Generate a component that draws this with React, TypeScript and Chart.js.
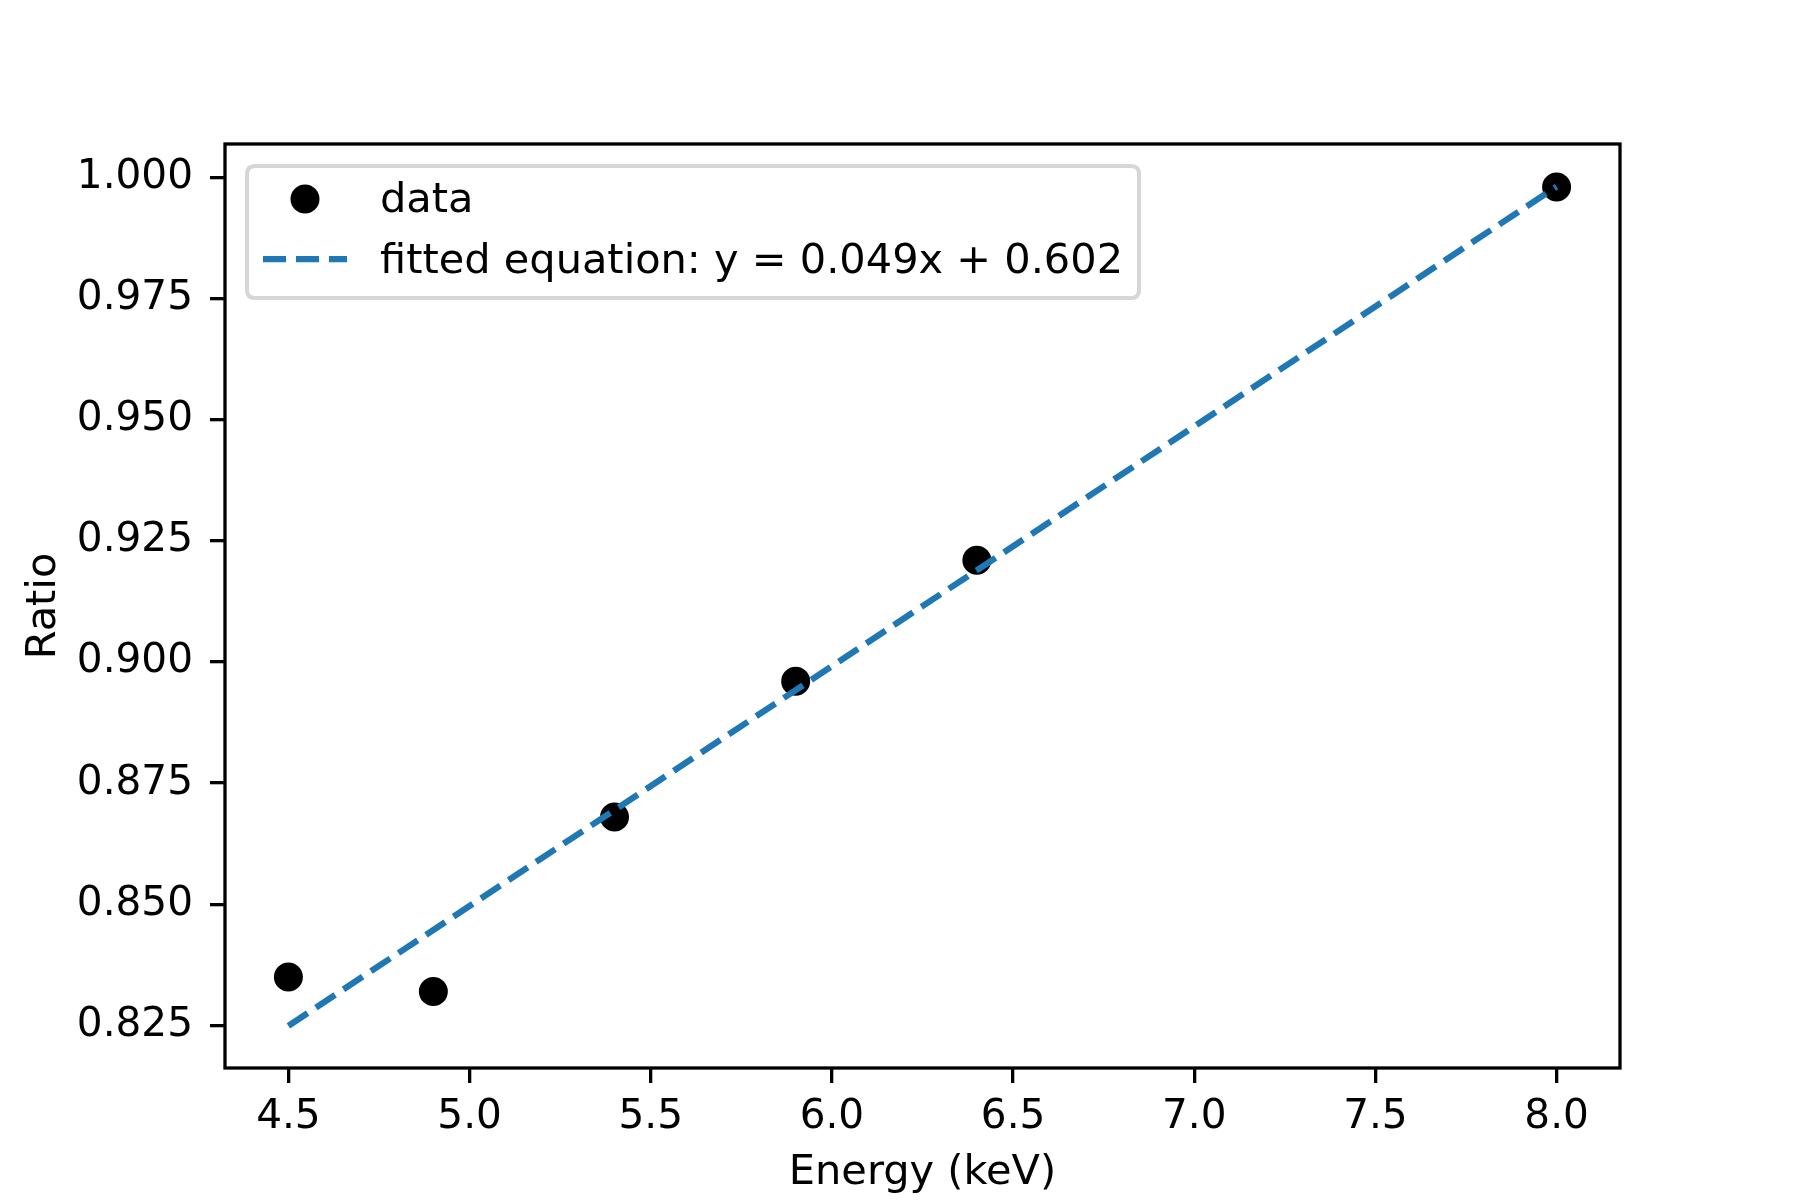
import React, { useEffect, useRef } from "react";
import { Chart, registerables } from "chart.js";

Chart.register(...registerables);

const energyKeV = [4.5, 4.9, 5.4, 5.9, 6.4, 8.0];
const ratioValues = [0.835, 0.832, 0.868, 0.896, 0.921, 0.998];
const fitX = [4.5, 8.0];
const fitY = [0.8249, 0.9981];
const xTicks = [4.5, 5.0, 5.5, 6.0, 6.5, 7.0, 7.5, 8.0];
const yTicks = [0.825, 0.85, 0.875, 0.9, 0.925, 0.95, 0.975, 1.0];
const dataLabel = "data";
const fitLabel = "fitted equation: y = 0.049x + 0.602";
const xTitle = "Energy (keV)";
const yTitle = "Ratio";

const FONT = "'DejaVu Sans', sans-serif";
const FS_TICK = 40.6;
const FS_TEXT = 41.5;
const BLUE = "#1f77b4";

const framePlugin = {
  id: "frameAndLegend",
  afterDraw(chart: any) {
    const { ctx, chartArea } = chart;
    const { left, top, right, bottom } = chartArea;
    ctx.save();
    ctx.strokeStyle = "#000";
    ctx.lineWidth = 3.3;
    ctx.lineJoin = "miter";
    ctx.strokeRect(left, top, right - left, bottom - top);

    // legend box
    const bx = 247, by = 166, bw = 892, bh = 132, r = 8;
    ctx.beginPath();
    ctx.moveTo(bx + r, by);
    ctx.lineTo(bx + bw - r, by);
    ctx.quadraticCurveTo(bx + bw, by, bx + bw, by + r);
    ctx.lineTo(bx + bw, by + bh - r);
    ctx.quadraticCurveTo(bx + bw, by + bh, bx + bw - r, by + bh);
    ctx.lineTo(bx + r, by + bh);
    ctx.quadraticCurveTo(bx, by + bh, bx, by + bh - r);
    ctx.lineTo(bx, by + r);
    ctx.quadraticCurveTo(bx, by, bx + r, by);
    ctx.closePath();
    ctx.fillStyle = "rgba(255,255,255,0.8)";
    ctx.fill();
    ctx.strokeStyle = "#d6d6d6";
    ctx.lineWidth = 4;
    ctx.stroke();

    const ds = chart.data.datasets;
    const dataDs = ds.find((d: any) => d.label === dataLabel);
    const fitDs = ds.find((d: any) => d.label === fitLabel);

    ctx.beginPath();
    ctx.arc(305, 199, 14.5, 0, Math.PI * 2);
    ctx.fillStyle = "#000";
    ctx.fill();
    ctx.beginPath();
    ctx.setLineDash([23, 10]);
    ctx.lineCap = "butt";
    ctx.strokeStyle = BLUE;
    ctx.lineWidth = 6.25;
    ctx.moveTo(263, 259);
    ctx.lineTo(347, 259);
    ctx.stroke();
    ctx.setLineDash([]);

    ctx.fillStyle = "#000";
    ctx.font = `${FS_TEXT}px ${FONT}`;
    ctx.textAlign = "left";
    ctx.textBaseline = "middle";
    ctx.fillText(dataDs.label, 380, 201);
    ctx.fillText(fitDs.label, 380, 262);
    ctx.restore();
  },
};

export default function App() {
  const ref = useRef<HTMLCanvasElement>(null);
  useEffect(() => {
    document.body.style.margin = "0";
    const canvas = ref.current!;
    const chart = new Chart(canvas, {
      type: "scatter",
      data: {
        datasets: [
          {
            type: "line",
            label: fitLabel,
            data: fitX.map((x, i) => ({ x, y: fitY[i] })),
            borderColor: BLUE,
            backgroundColor: BLUE,
            borderWidth: 6.25,
            borderDash: [23, 10],
            borderCapStyle: "butt",
            pointRadius: 0,
            fill: false,
            tension: 0,
            order: 0,
          } as any,
          {
            type: "scatter",
            label: dataLabel,
            data: energyKeV.map((x, i) => ({ x, y: ratioValues[i] })),
            backgroundColor: "#000",
            borderColor: "#000",
            pointRadius: 12.5,
            borderWidth: 4,
            order: 1,
          } as any,
        ],
      },
      options: {
        animation: false,
        responsive: false,
        maintainAspectRatio: false,
        layout: { padding: { top: 144, right: 180, left: 0, bottom: 0 } },
        plugins: { legend: { display: false }, tooltip: { enabled: false }, title: { display: false } },
        scales: {
          x: {
            type: "linear",
            min: 4.325,
            max: 8.175,
            afterBuildTicks: (axis: any) => {
              axis.ticks = xTicks.map((v) => ({ value: v }));
            },
            afterFit: (axis: any) => {
              axis.height = 132;
            },
            border: { display: false },
            grid: {
              drawOnChartArea: false,
              drawTicks: true,
              tickLength: 15,
              tickWidth: 3.3,
              tickColor: "#000",
              color: "#000",
              lineWidth: 3.3,
            },
            ticks: {
              color: "#000",
              font: { family: FONT, size: FS_TICK },
              padding: 10,
              maxRotation: 0,
              autoSkip: false,
              callback: (v: any) => Number(v).toFixed(1),
            },
            title: {
              display: true,
              text: xTitle,
              color: "#000",
              font: { family: FONT, size: FS_TEXT },
              padding: { top: 0, bottom: 2 },
            },
          },
          y: {
            type: "linear",
            min: 0.8162,
            max: 1.00688,
            afterBuildTicks: (axis: any) => {
              axis.ticks = yTicks.map((v) => ({ value: v }));
            },
            afterFit: (axis: any) => {
              axis.width = 225;
            },
            border: { display: false },
            grid: {
              drawOnChartArea: false,
              drawTicks: true,
              tickLength: 15,
              tickWidth: 3.3,
              tickColor: "#000",
              color: "#000",
              lineWidth: 3.3,
            },
            ticks: {
              color: "#000",
              font: { family: FONT, size: FS_TICK },
              padding: 17,
              autoSkip: false,
              callback: (v: any) => Number(v).toFixed(3),
            },
            title: {
              display: true,
              text: yTitle,
              color: "#000",
              font: { family: FONT, size: FS_TEXT },
              padding: { top: 19, bottom: 0 },
            },
          },
        },
      },
      plugins: [framePlugin],
    } as any);
    return () => chart.destroy();
  }, []);
  return (
    <div style={{ width: 1800, height: 1200, background: "#fff" }}>
      <canvas ref={ref} width={1800} height={1200} style={{ display: "block", width: 1800, height: 1200 }} />
    </div>
  );
}
